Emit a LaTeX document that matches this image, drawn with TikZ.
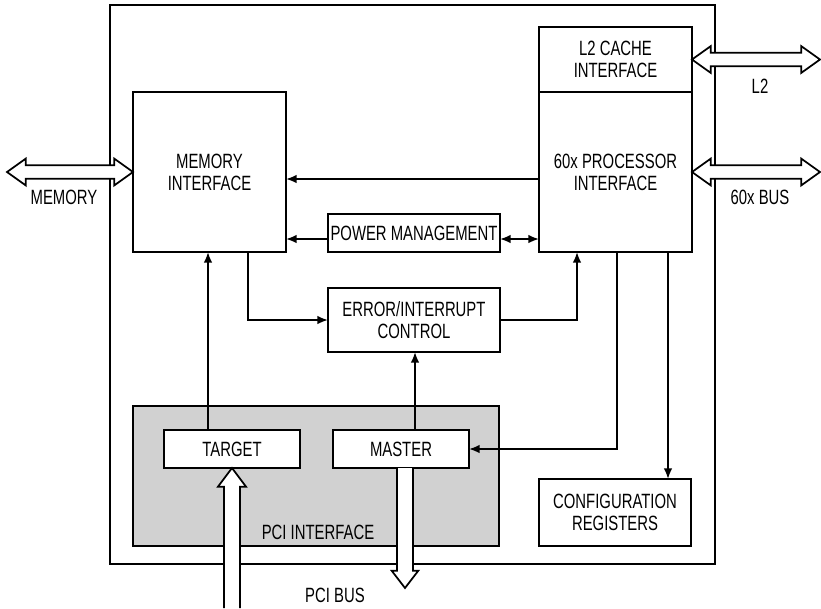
\documentclass[tikz,border=0pt]{standalone}
\usepackage{fontspec}
\setmainfont[FakeStretch=0.72]{Liberation Sans}
\usetikzlibrary{arrows.meta,calc}

% wide hollow bus arrows
\newcommand\busdouble[2]{% double-headed, horizontal, from #1 (left tip) to #2 (right tip)
  \draw[busarrow] let \p1=(#1), \p2=(#2) in
    (\x1,\y1) -- (\x1+14pt,\y1+10pt) -- (\x1+14pt,\y1+5pt) -- (\x2-14pt,\y1+5pt)
    -- (\x2-14pt,\y1+10pt) -- (\x2,\y1) -- (\x2-14pt,\y1-10pt) -- (\x2-14pt,\y1-5pt)
    -- (\x1+14pt,\y1-5pt) -- (\x1+14pt,\y1-10pt) -- cycle;}
\newcommand\busup[2]{% open tail #1 below, tip #2 above
  \draw[busarrow] let \p1=(#1), \p2=(#2) in
    (\x1-6pt,\y1) -- (\x1-6pt,\y2-14pt) -- (\x1-10.5pt,\y2-14pt) -- (\x1,\y2)
    -- (\x1+10.5pt,\y2-14pt) -- (\x1+6pt,\y2-14pt) -- (\x1+6pt,\y1);}
\newcommand\busdown[2]{% open tail #1 above, tip #2 below
  \draw[busarrow] let \p1=(#1), \p2=(#2) in
    (\x1-6pt,\y1) -- (\x1-6pt,\y2+13pt) -- (\x1-10pt,\y2+13pt) -- (\x1,\y2)
    -- (\x1+10pt,\y2+13pt) -- (\x1+6pt,\y2+13pt) -- (\x1+6pt,\y1);}

\tikzset{
  box/.style 2 args={draw, line width=1.3pt, inner sep=0pt, outer sep=0pt, align=center,
    minimum width=#1*0.75pt, minimum height=#2*0.75pt},
  arr/.style={line width=1.4pt, -{Latex[length=8pt,width=6.5pt]}},
  dblarr/.style={line width=1.4pt, {Latex[length=8pt,width=6.5pt]}-{Latex[length=8pt,width=6.5pt]}},
  busarrow/.style={draw, fill=white, line width=1.3pt, line join=miter},
  lbl/.style={inner sep=0pt, align=center},
}

\begin{document}
\begin{tikzpicture}[x=0.75pt, y=-0.75pt, font=\fontsize{15.5}{16.5}\selectfont]
\useasboundingbox (0,0) rectangle (821,608);

% chip outline and PCI block
\node[box={605}{559}] (chip) at (412.5,284.5) {};
\node[box={366}{140}, fill=black!18] (pci) at (316,476) {};
\node[lbl] (pcilbl) at (318,532) {PCI INTERFACE};

% functional blocks
\node[box={153}{65}]  (l2)  at (615.5,59.5) {L2 CACHE\\INTERFACE};
\node[box={153}{160}] (cpu) at (615.5,172)  {60x PROCESSOR\\INTERFACE};
\node[box={153}{160}] (mem) at (209.5,172)  {MEMORY\\INTERFACE};
\node[box={172}{38}]  (pm)  at (414,233)    {POWER MANAGEMENT};
\node[box={172}{64}]  (err) at (414,320)    {ERROR/INTERRUPT\\CONTROL};
\node[box={136}{38}, fill=white] (tgt) at (232,449) {TARGET};
\node[box={136}{38}, fill=white] (mst) at (401,449) {MASTER};
\node[box={152}{67}]  (cfg) at (615,512.5)  {CONFIGURATION\\REGISTERS};

% internal signal paths
\draw[arr] ([yshift=-5.25pt]cpu.west) -- ([yshift=-5.25pt]mem.east);
\draw[arr] ([yshift=-4.5pt]pm.west) -- ([yshift=-4.5pt]pm.west -| mem.east);
\draw[dblarr] ([yshift=-4.5pt]pm.east) -- ([yshift=-4.5pt]pm.east -| cpu.west);
\draw[arr] ($(mem.south east)+(-38,0)$) |- (err.west);
\draw[arr] (err.east) -| ($(cpu.south west)+(38,0)$);
\draw[arr] ($(cpu.south west)+(78,0)$) |- (mst.east);
\coordinate (cfgtap) at ($(cpu.south west)+(129,0)$);
\draw[arr] (cfgtap) -- (cfgtap |- cfg.north);
\coordinate (memtap) at ($(mem.south)+(-1.5,0)$);
\draw[arr] (memtap |- tgt.north) -- (memtap);
\coordinate (errtap) at ($(err.south)+(1,0)$);
\draw[arr] (errtap |- mst.north) -- (errtap);

% external buses
\coordinate (memend) at (7,172);
\coordinate (l2end) at (l2.east -| 820,0);
\coordinate (cpuend) at (cpu.east -| 820,0);
\coordinate (pcitail) at (tgt.south |- 0,608);
\coordinate (msttail) at ($(mst.south)+(4,0)$);
\coordinate (msttip) at ($(mst.south)+(4,120)$);

\busdouble{memend}{mem.west}
\busdouble{l2.east}{l2end}
\busdouble{cpu.east}{cpuend}
\busup{pcitail}{tgt.south}
\busdown{msttail}{msttip}

% bus labels
\node[lbl] (memlbl) at (64,197) {MEMORY};
\node[lbl] (l2lbl) at (760,86) {L2};
\node[lbl] (cpulbl) at (760,197) {60x BUS};
\node[lbl] (pcibus) at (335,595) {PCI BUS};
\end{tikzpicture}
\end{document}
